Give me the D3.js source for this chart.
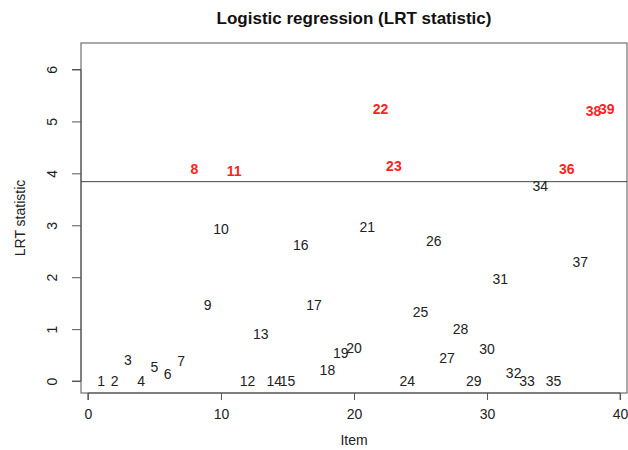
<!DOCTYPE html>
<html>
<head>
<meta charset="utf-8">
<script src="https://cdn.jsdelivr.net/npm/d3@7"></script>
<style>
  body { margin: 0; background: #fff; }
  svg text { font-family: "Liberation Sans", Arial, sans-serif; }
</style>
</head>
<body>
<div id="chart"></div>
<script>
// item numbers and LRT statistic
const items = d3.range(1, 40);
const lrt = [0.0, 0.0, 0.40, 0.0, 0.27, 0.13, 0.38, 4.09, 1.46, 2.93,
             4.05, 0.0, 0.91, 0.0, 0.0, 2.63, 1.46, 0.22, 0.54, 0.64,
             2.96, 5.24, 4.14, 0.0, 1.33, 2.69, 0.45, 1.01, 0.01, 0.61,
             1.96, 0.15, 0.0, 3.76, 0.0, 4.08, 2.29, 5.20, 5.24];
const threshold = 3.84;
const xTicks = [0, 10, 20, 30, 40];
const yTicks = [0, 1, 2, 3, 4, 5, 6];

const width = 628, height = 450;
const margin = {top: 43, right: 1, bottom: 57, left: 81};

const svg = d3.select("#chart").append("svg")
  .attr("width", width)
  .attr("height", height);

const x = d3.scaleLinear()
  .domain([-0.52, 40.52])
  .range([margin.left, width - margin.right]);
const y = d3.scaleLinear()
  .domain([-0.23, 6.51])
  .range([height - margin.bottom, margin.top]);

const axisCol = "#555";

// plot box
svg.append("rect")
  .attr("x", x(-0.52)).attr("y", y(6.51))
  .attr("width", x(40.52) - x(-0.52))
  .attr("height", y(-0.23) - y(6.51))
  .attr("fill", "none").attr("stroke", axisCol).attr("stroke-width", 1);

// x axis (R style, detached a bit below the box)
const xAxis = svg.append("g")
  .attr("transform", `translate(0, ${y(-0.23)})`)
  .call(d3.axisBottom(x).tickValues(xTicks).tickSize(7).tickPadding(9));
xAxis.select(".domain").attr("d", `M${x(0)},7V0H${x(40)}V7`);

// y axis with rotated labels
const yAxis = svg.append("g")
  .attr("transform", `translate(${x(-0.52)}, 0)`)
  .call(d3.axisLeft(y).tickValues(yTicks).tickFormat(d3.format("d")).tickSize(9).tickPadding(0));
yAxis.select(".domain").attr("d", `M-9,${y(0)}H0V${y(6)}H-9`);
yAxis.selectAll(".tick text")
  .attr("x", 0).attr("dy", 0)
  .attr("text-anchor", "middle")
  .attr("transform", "translate(-29, 0) rotate(-90)")
  .attr("dy", "0.35em");

[xAxis, yAxis].forEach(g => {
  g.selectAll("path, line").attr("stroke", axisCol);
  g.selectAll("text").attr("fill", "#222").style("font-size", "14px");
});

// threshold line
svg.append("line")
  .attr("x1", x(-0.52)).attr("x2", x(40.52))
  .attr("y1", y(threshold)).attr("y2", y(threshold))
  .attr("stroke", "#444").attr("stroke-width", 1);

// item labels in place of points
svg.append("g").selectAll("text")
  .data(items)
  .enter().append("text")
  .attr("x", d => x(d))
  .attr("y", (d, i) => y(lrt[i]))
  .attr("dy", "0.36em")
  .attr("text-anchor", "middle")
  .style("font-size", "14px")
  .style("font-weight", (d, i) => lrt[i] > threshold ? "bold" : "normal")
  .attr("fill", (d, i) => lrt[i] > threshold ? "#ff2222" : "#222")
  .text(d => d);

// titles
svg.append("text")
  .attr("x", (x(-0.52) + x(40.52)) / 2).attr("y", 24)
  .attr("text-anchor", "middle")
  .style("font-size", "17px").style("font-weight", "bold")
  .attr("fill", "#111")
  .text("Logistic regression (LRT statistic)");

svg.append("text")
  .attr("x", (x(-0.52) + x(40.52)) / 2).attr("y", 445)
  .attr("text-anchor", "middle")
  .style("font-size", "14px").attr("fill", "#222")
  .text("Item");

svg.append("text")
  .attr("transform", `translate(25, ${(y(-0.23) + y(6.51)) / 2}) rotate(-90)`)
  .attr("text-anchor", "middle")
  .style("font-size", "14px").attr("fill", "#222")
  .text("LRT statistic");
</script>
</body>
</html>
